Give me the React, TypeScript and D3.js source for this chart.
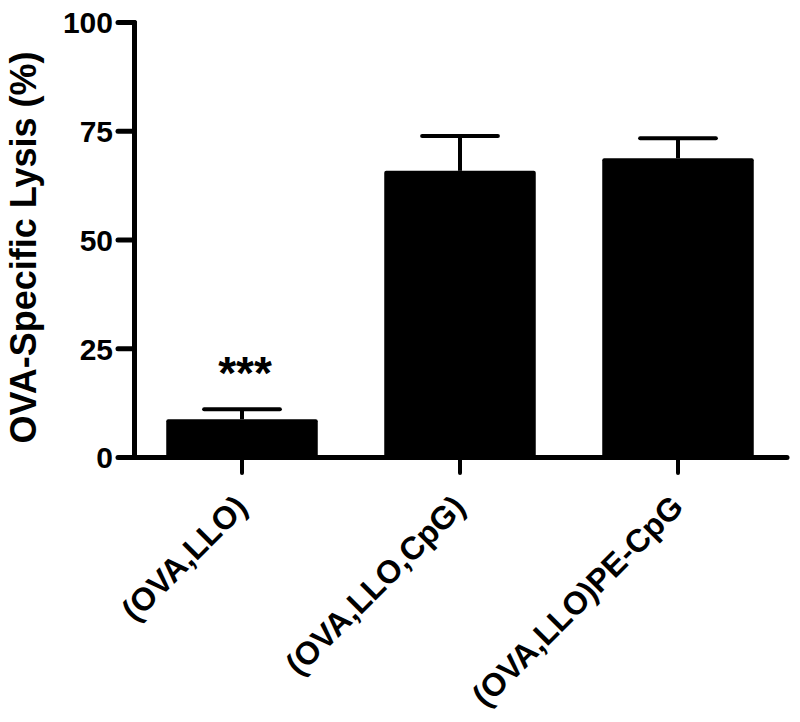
import * as d3 from 'd3';

const WIDTH = 800;
const HEIGHT = 722;
const PLOT = { left: 134.5, right: 787, top: 22.5, bottom: 457.5 };

const categories = ['(OVA,LLO)', '(OVA,LLO,CpG)', '(OVA,LLO)PE-CpG'];
const means = [8.8, 65.9, 68.8];
const sem = [2.3, 8.0, 4.6];
const stars = ['***', '', ''];
const yTicks = [0, 25, 50, 75, 100];

const FONT = 'Liberation Sans, Arial, Helvetica, sans-serif';

const App = () => {
    const xScale = d3
        .scaleBand()
        .domain(categories)
        .range([PLOT.left - 1.5, PLOT.right])
        .paddingInner(0.305)
        .paddingOuter(0.1525);

    const yScale = d3
        .scaleLinear()
        .domain([0, 100])
        .range([PLOT.bottom, PLOT.top]);

    const bw = xScale.bandwidth();

    const bars = categories.map((c, i) => {
        const x = xScale(c) || 0;
        const cx = x + bw / 2;
        const top = yScale(means[i]);
        const errTop = yScale(means[i] + sem[i]);
        return (
            <g key={c}>
                <rect
                    x={x}
                    y={top}
                    width={bw}
                    height={yScale(0) - top}
                    fill="#000"
                    rx={2}
                />
                <line x1={cx} x2={cx} y1={top} y2={errTop} stroke="#000" strokeWidth={4} />
                <line
                    x1={cx - bw / 4}
                    x2={cx + bw / 4}
                    y1={errTop}
                    y2={errTop}
                    stroke="#000"
                    strokeWidth={4}
                    strokeLinecap="round"
                />
                {stars[i] && (
                    <text
                        x={cx + 3}
                        y={errTop - 20}
                        textAnchor="middle"
                        fontFamily={FONT}
                        fontWeight="bold"
                        fontSize={46}
                    >
                        {stars[i]}
                    </text>
                )}
            </g>
        );
    });

    return (
        <svg
            width={WIDTH}
            height={HEIGHT}
            style={{ position: 'absolute', left: 0, top: 0, background: '#fff' }}
        >
            {bars}
            {/* y axis */}
            <line
                x1={PLOT.left}
                x2={PLOT.left}
                y1={PLOT.top}
                y2={PLOT.bottom}
                stroke="#000"
                strokeWidth={5}
                strokeLinecap="round"
            />
            {yTicks.map((t) => (
                <g key={t} transform={`translate(0,${yScale(t)})`}>
                    <line
                        x1={118}
                        x2={PLOT.left}
                        stroke="#000"
                        strokeWidth={5}
                        strokeLinecap="round"
                    />
                    <text
                        x={113}
                        dy="0.36em"
                        textAnchor="end"
                        fontFamily={FONT}
                        fontWeight="bold"
                        fontSize={30}
                    >
                        {t}
                    </text>
                </g>
            ))}
            {/* x axis */}
            <line
                x1={PLOT.left}
                x2={PLOT.right}
                y1={PLOT.bottom}
                y2={PLOT.bottom}
                stroke="#000"
                strokeWidth={5}
                strokeLinecap="round"
            />
            {categories.map((c) => {
                const cx = (xScale(c) || 0) + bw / 2;
                return (
                    <g key={c}>
                        <line
                            x1={cx}
                            x2={cx}
                            y1={PLOT.bottom}
                            y2={473}
                            stroke="#000"
                            strokeWidth={4}
                            strokeLinecap="round"
                        />
                        <text
                            transform={`translate(${cx + 7},509) rotate(-45)`}
                            textAnchor="end"
                            fontFamily={FONT}
                            fontWeight="bold"
                            fontSize={32}
                        >
                            {c}
                        </text>
                    </g>
                );
            })}
            <text
                transform={`translate(36,247.5) rotate(-90)`}
                textAnchor="middle"
                fontFamily={FONT}
                fontWeight="bold"
                fontSize={36}
            >
                OVA-Specific Lysis (%)
            </text>
        </svg>
    );
};

export default App;
